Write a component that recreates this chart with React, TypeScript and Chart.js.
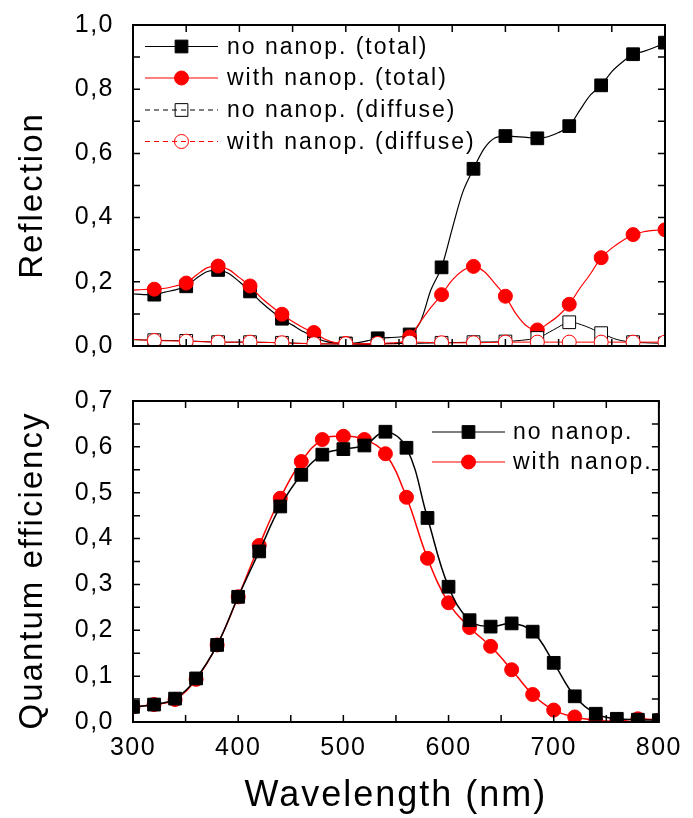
import { useEffect, useRef } from 'react';
import { Chart, registerables } from 'chart.js';

Chart.register(...registerables);

const FONT = '"Liberation Sans", Arial, Helvetica, sans-serif';
const BLACK = '#000000';
const RED = '#ff0000';

// ---------- Top panel: Reflection ----------
const reflWavelengths = [
  300, 310, 320, 330, 340, 350, 360, 370, 380, 390, 400, 410, 420, 430, 440, 450, 460,
  470, 480, 490, 500, 510, 520, 530, 540, 550, 560, 570, 580, 590, 600, 610, 620, 630,
  640, 650, 660, 670, 680, 690, 700, 710, 720, 730, 740, 750, 760, 770, 780, 790, 800,
];
const reflNoNanopTotal = [
  0.162, 0.16, 0.16, 0.168, 0.175, 0.186, 0.212, 0.232, 0.237, 0.226, 0.2, 0.17, 0.138,
  0.11, 0.085, 0.065, 0.045, 0.028, 0.015, 0.009, 0.008, 0.01, 0.016, 0.024, 0.026, 0.028,
  0.036, 0.075, 0.175, 0.245, 0.365, 0.48, 0.552, 0.615, 0.648, 0.654, 0.652, 0.65, 0.647,
  0.652, 0.665, 0.685, 0.735, 0.782, 0.812, 0.855, 0.885, 0.909, 0.918, 0.93, 0.945,
];
const reflWithNanopTotal = [
  0.174, 0.176, 0.177, 0.18, 0.187, 0.196, 0.222, 0.244, 0.249, 0.238, 0.213, 0.187, 0.152,
  0.124, 0.099, 0.076, 0.057, 0.042, 0.022, 0.011, 0.008, 0.006, 0.005, 0.006, 0.007, 0.009,
  0.028, 0.075, 0.12, 0.16, 0.205, 0.235, 0.248, 0.232, 0.195, 0.155, 0.1, 0.062, 0.05,
  0.07, 0.095, 0.13, 0.18, 0.225, 0.275, 0.305, 0.328, 0.347, 0.356, 0.36, 0.362,
];
const reflMarkerWavelengths = [
  320, 350, 380, 410, 440, 470, 500, 530, 560, 590, 620, 650, 680, 710, 740, 770, 800,
];
const diffuseWavelengths = [
  300, 320, 350, 380, 410, 440, 470, 500, 530, 560, 590, 620, 650, 680, 695, 710, 725,
  740, 755, 770, 800,
];
const reflNoNanopDiffuse = [
  0.02, 0.018, 0.016, 0.012, 0.012, 0.01, 0.007, 0.006, 0.007, 0.008, 0.01, 0.012, 0.014,
  0.025, 0.05, 0.074, 0.062, 0.04, 0.02, 0.012, 0.008,
];
const reflWithNanopDiffuse = [
  0.02, 0.017, 0.015, 0.012, 0.012, 0.01, 0.007, 0.007, 0.008, 0.012, 0.01, 0.01, 0.012,
  0.012, 0.012, 0.012, 0.012, 0.012, 0.012, 0.012, 0.012,
];

// ---------- Bottom panel: Quantum efficiency ----------
const qeWavelengths = [
  300, 320, 340, 360, 380, 400, 420, 440, 460, 480, 500, 520, 540, 560, 580, 600, 620,
  640, 660, 680, 700, 720, 740, 760, 780, 800,
];
const qeNoNanop = [
  0.033, 0.038, 0.051, 0.095, 0.168, 0.273, 0.372, 0.47, 0.539, 0.583, 0.595, 0.603,
  0.633, 0.598, 0.445, 0.295, 0.222, 0.208, 0.215, 0.197, 0.129, 0.056, 0.018, 0.007,
  0.005, 0.004,
];
const qeWithNanop = [
  0.033, 0.038, 0.049, 0.093, 0.168, 0.273, 0.385, 0.488, 0.568, 0.616, 0.623, 0.616,
  0.585, 0.49, 0.357, 0.26, 0.206, 0.165, 0.114, 0.06, 0.026, 0.011, 0.004, 0.002,
  0.007, 0.004,
];

// ---------- Ticks ----------
const reflYTicks = [0, 0.2, 0.4, 0.6, 0.8, 1.0];
const reflYMinorTicks = [0, 0.1, 0.2, 0.3, 0.4, 0.5, 0.6, 0.7, 0.8, 0.9, 1.0];
const qeYTicks = [0, 0.1, 0.2, 0.3, 0.4, 0.5, 0.6, 0.7];
const qeYMinorTicks = [
  0, 0.05, 0.1, 0.15, 0.2, 0.25, 0.3, 0.35, 0.4, 0.45, 0.5, 0.55, 0.6, 0.65, 0.7,
];
const xTicks = [300, 400, 500, 600, 700, 800];
const xMinorTicks = [300, 350, 400, 450, 500, 550, 600, 650, 700, 750, 800];

const fmtComma = (v: number) => v.toFixed(1).replace('.', ',');
const pts = (xs: number[], ys: number[]) => xs.map((x, i) => ({ x, y: ys[i] }));

const SQ_R = 9;
const CI_R = 7;
const TICK_FONT = 25;

type DecorCfg = {
  xMinor: number[];
  yMinor: number[];
  yTitle: string;
  yTitleX: number;
  yTitleDy: number;
  xTitle?: string;
  xTitleY?: number;
  legend: { x1: number; x2: number; textX: number; rows: number[] };
};

function makeDecor(cfg: DecorCfg) {
  const setSpacing = (chart: any) => {
    try {
      chart.ctx.letterSpacing = '1.5px';
    } catch (e) {}
  };
  return {
    id: 'decor',
    beforeLayout: setSpacing,
    beforeDraw: setSpacing,
    afterDraw(chart: any) {
      const { ctx, chartArea: a, scales } = chart;
      const xs = scales.x;
      const ys = scales.y;
      ctx.save();
      // inward ticks on all four sides
      ctx.strokeStyle = BLACK;
      ctx.lineWidth = 1.5;
      const L = 7;
      ctx.beginPath();
      for (const v of cfg.xMinor) {
        const px = xs.getPixelForValue(v);
        ctx.moveTo(px, a.top);
        ctx.lineTo(px, a.top + L);
        ctx.moveTo(px, a.bottom);
        ctx.lineTo(px, a.bottom - L);
      }
      for (const v of cfg.yMinor) {
        const py = ys.getPixelForValue(v);
        ctx.moveTo(a.left, py);
        ctx.lineTo(a.left + L, py);
        ctx.moveTo(a.right, py);
        ctx.lineTo(a.right - L, py);
      }
      ctx.stroke();
      ctx.lineWidth = 2;
      ctx.strokeRect(a.left, a.top, a.right - a.left, a.bottom - a.top);

      // axis titles
      ctx.fillStyle = BLACK;
      (ctx as any).letterSpacing = '2px';
      ctx.textAlign = 'center';
      ctx.textBaseline = 'alphabetic';
      ctx.save();
      ctx.font = `33px ${FONT}`;
      ctx.translate(cfg.yTitleX, (a.top + a.bottom) / 2 + cfg.yTitleDy);
      ctx.rotate(-Math.PI / 2);
      ctx.fillText(cfg.yTitle, 0, 0);
      ctx.restore();
      if (cfg.xTitle) {
        ctx.font = `36px ${FONT}`;
        ctx.fillText(cfg.xTitle, (a.left + a.right) / 2, cfg.xTitleY as number);
      }

      // legend
      const lg = cfg.legend;
      const x1 = a.left + lg.x1;
      const x2 = a.left + lg.x2;
      const mx = (x1 + x2) / 2;
      const entries = chart.data.datasets.filter((d: any) => d.legendRow !== undefined);
      for (const ds of entries) {
        const y = a.top + lg.rows[ds.legendRow];
        ctx.setLineDash(ds.legendDash || []);
        ctx.lineWidth = 1.2;
        ctx.strokeStyle = ds.borderColor;
        ctx.beginPath();
        ctx.moveTo(x1, y);
        ctx.lineTo(x2, y);
        ctx.stroke();
        ctx.setLineDash([]);
        ctx.beginPath();
        if (ds.pointStyle === 'rect') {
          const s = SQ_R * Math.SQRT1_2;
          ctx.rect(mx - s, y - s, 2 * s, 2 * s);
        } else {
          ctx.arc(mx, y, CI_R, 0, Math.PI * 2);
        }
        if (ds.legendFilled) {
          ctx.fillStyle = ds.borderColor;
          ctx.fill();
        }
        ctx.lineWidth = 1;
        ctx.strokeStyle = ds.borderColor;
        ctx.stroke();
        ctx.fillStyle = BLACK;
        ctx.font = `23px ${FONT}`;
        (ctx as any).letterSpacing = '2px';
        ctx.textAlign = 'left';
        ctx.textBaseline = 'middle';
        ctx.fillText(ds.label, a.left + lg.textX, y + 1);
      }
      ctx.restore();
    },
  };
}

const radiusAt = (xs: number[], marks: number[], r: number) =>
  xs.map((w) => (marks.includes(w) ? r : 0));

const fitY = (s: any) => {
  s.width = 133;
  s.paddingTop = 0;
  s.paddingBottom = 0;
};

function topConfig(): any {
  return {
    type: 'line',
    data: {
      datasets: [
        {
          label: 'no nanop. (total)',
          data: pts(reflWavelengths, reflNoNanopTotal),
          borderColor: BLACK,
          borderWidth: 1.2,
          pointStyle: 'rect',
          pointRadius: radiusAt(reflWavelengths, reflMarkerWavelengths, SQ_R),
          pointBackgroundColor: BLACK,
          pointBorderColor: BLACK,
          pointBorderWidth: 1,
          tension: 0.3,
          order: 4,
          clip: 0,
          legendRow: 0,
          legendFilled: true,
        },
        {
          label: 'with nanop. (total)',
          data: pts(reflWavelengths, reflWithNanopTotal),
          borderColor: RED,
          borderWidth: 1.2,
          pointStyle: 'circle',
          pointRadius: radiusAt(reflWavelengths, reflMarkerWavelengths, CI_R),
          pointBackgroundColor: RED,
          pointBorderColor: RED,
          pointBorderWidth: 1,
          tension: 0.3,
          order: 3,
          clip: 0,
          legendRow: 1,
          legendFilled: true,
        },
        {
          label: 'no nanop. (diffuse)',
          data: pts(diffuseWavelengths, reflNoNanopDiffuse),
          borderColor: BLACK,
          borderWidth: 1,
          pointStyle: 'rect',
          pointRadius: radiusAt(diffuseWavelengths, reflMarkerWavelengths, SQ_R),
          pointBackgroundColor: '#ffffff',
          pointBorderColor: BLACK,
          pointBorderWidth: 1,
          tension: 0.3,
          order: 2,
          clip: 0,
          legendRow: 2,
          legendDash: [5, 4],
          legendFilled: false,
        },
        {
          label: 'with nanop. (diffuse)',
          data: pts(diffuseWavelengths, reflWithNanopDiffuse),
          borderColor: RED,
          borderWidth: 1,
          pointStyle: 'circle',
          pointRadius: radiusAt(diffuseWavelengths, reflMarkerWavelengths, CI_R),
          pointBackgroundColor: '#ffffff',
          pointBorderColor: RED,
          pointBorderWidth: 1,
          tension: 0.3,
          order: 1,
          clip: 0,
          legendRow: 3,
          legendDash: [5, 4],
          legendFilled: false,
        },
      ],
    },
    options: {
      animation: false,
      responsive: true,
      maintainAspectRatio: false,
      events: [],
      layout: { padding: { left: 0, top: 25, right: 28, bottom: 24 } },
      plugins: { legend: { display: false }, tooltip: { enabled: false } },
      scales: {
        x: { type: 'linear', min: 300, max: 800, display: false },
        y: {
          type: 'linear',
          min: 0,
          max: 1,
          grid: { display: false, drawTicks: false },
          border: { display: false },
          afterBuildTicks: (s: any) => {
            s.ticks = reflYTicks.map((v) => ({ value: v }));
          },
          afterFit: fitY,
          ticks: {
            color: BLACK,
            padding: 19,
            font: { family: FONT, size: TICK_FONT },
            callback: (v: any) => fmtComma(Number(v)),
          },
        },
      },
    },
    plugins: [
      makeDecor({
        xMinor: xMinorTicks,
        yMinor: reflYMinorTicks,
        yTitle: 'Reflection',
        yTitleX: 42,
        yTitleDy: 10,
        legend: { x1: 12, x2: 85, textX: 94, rows: [21.5, 53, 85, 116.5] },
      }),
    ],
  };
}

function bottomConfig(): any {
  return {
    type: 'line',
    data: {
      datasets: [
        {
          label: 'no nanop.',
          data: pts(qeWavelengths, qeNoNanop),
          borderColor: BLACK,
          borderWidth: 1.5,
          pointStyle: 'rect',
          pointRadius: SQ_R,
          pointBackgroundColor: BLACK,
          pointBorderColor: BLACK,
          pointBorderWidth: 1,
          tension: 0.4,
          order: 1,
          clip: 0,
          legendRow: 0,
          legendFilled: true,
        },
        {
          label: 'with nanop.',
          data: pts(qeWavelengths, qeWithNanop),
          borderColor: RED,
          borderWidth: 1.5,
          pointStyle: 'circle',
          pointRadius: CI_R,
          pointBackgroundColor: RED,
          pointBorderColor: RED,
          pointBorderWidth: 1,
          tension: 0.4,
          order: 2,
          clip: 0,
          legendRow: 1,
          legendFilled: true,
        },
      ],
    },
    options: {
      animation: false,
      responsive: true,
      maintainAspectRatio: false,
      events: [],
      layout: { padding: { left: 0, top: 31, right: 28, bottom: 0 } },
      plugins: { legend: { display: false }, tooltip: { enabled: false } },
      scales: {
        x: {
          type: 'linear',
          min: 300,
          max: 800,
          grid: { display: false, drawTicks: false },
          border: { display: false },
          afterBuildTicks: (s: any) => {
            s.ticks = xTicks.map((v) => ({ value: v }));
          },
          afterFit: (s: any) => {
            s.height = 96;
          },
          ticks: {
            color: BLACK,
            padding: 11,
            autoSkip: false,
            maxRotation: 0,
            font: { family: FONT, size: TICK_FONT },
            callback: (v: any) => String(v),
          },
        },
        y: {
          type: 'linear',
          min: 0,
          max: 0.7,
          grid: { display: false, drawTicks: false },
          border: { display: false },
          afterBuildTicks: (s: any) => {
            s.ticks = qeYTicks.map((v) => ({ value: v }));
          },
          afterFit: fitY,
          ticks: {
            color: BLACK,
            padding: 19,
            font: { family: FONT, size: TICK_FONT },
            callback: (v: any) => fmtComma(Number(v)),
          },
        },
      },
    },
    plugins: [
      makeDecor({
        xMinor: xMinorTicks,
        yMinor: qeYMinorTicks,
        yTitle: 'Quantum efficiency',
        yTitleX: 42,
        yTitleDy: 9,
        xTitle: 'Wavelength (nm)',
        xTitleY: 436,
        legend: { x1: 299, x2: 372, textX: 380, rows: [31, 61] },
      }),
    ],
  };
}

export default function App() {
  const topRef = useRef<HTMLCanvasElement>(null);
  const botRef = useRef<HTMLCanvasElement>(null);
  useEffect(() => {
    const top = new Chart(topRef.current as HTMLCanvasElement, topConfig());
    const bot = new Chart(botRef.current as HTMLCanvasElement, bottomConfig());
    return () => {
      top.destroy();
      bot.destroy();
    };
  }, []);
  return (
    <div
      style={{
        position: 'absolute',
        left: 0,
        top: 0,
        width: 693,
        height: 818,
        background: '#ffffff',
      }}
    >
      <div style={{ position: 'absolute', left: 0, top: 0, width: 693, height: 370 }}>
        <canvas ref={topRef} />
      </div>
      <div style={{ position: 'absolute', left: 0, top: 370, width: 693, height: 448 }}>
        <canvas ref={botRef} />
      </div>
    </div>
  );
}
